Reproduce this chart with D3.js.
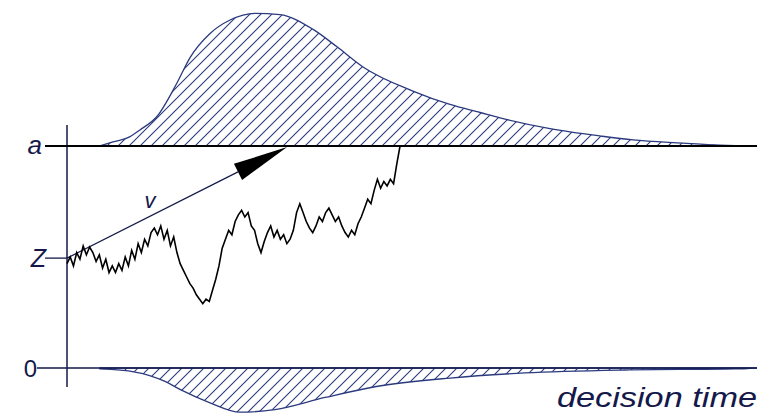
<!DOCTYPE html>
<html><head><meta charset="utf-8">
<script src="https://cdn.jsdelivr.net/npm/d3@7"></script>
<style>body{margin:0;background:#fff}svg{display:block}</style>
</head><body>
<svg id="c" width="771" height="413"></svg>
<script>
// ---- data ----
const boundaryLabels = ["a", "Z", "0"];
const boundaryValues = [1, 0.495, 0];
const xLabel = "decision time";
const driftLabel = "v";
// upper (hit a) RT density: time, density
const topT = [0.143,0.2,0.274,0.317,0.391,0.478,0.535,0.622,0.709,0.817,0.926,1.07,1.174,1.287,1.504,1.665,1.796,1.883,2.1,2.317,2.461,2.678,2.839,3.0];
const topD = [0,0.03,0.07,0.12,0.22,0.47,0.66,0.84,0.94,0.99,0.98,0.87,0.74,0.59,0.41,0.31,0.25,0.21,0.13,0.075,0.045,0.022,0.007,0];
// lower (hit 0) RT density
const botT = [0.143,0.296,0.426,0.491,0.622,0.752,0.904,1.122,1.339,1.665,1.991,2.426,2.904,3.0];
const botD = [0.007,0.03,0.10,0.16,0.26,0.33,0.31,0.22,0.14,0.075,0.037,0.015,0.007,0];
// sample path of the evidence process (equal time steps until it hits a)
const walkEnd = 1.448;
const walk = [.47,.50,.46,.52,.49,.55,.51,.545,
  .52,.48,.51,.45,.49,.43,.46,.43,
  .47,.44,.50,.46,.53,.49,.56,.52,.58,.55,.61,.63,
  .60,.64,.58,.62,.55,.59,.52,.47,
  .44,.41,.38,.36,.33,.31,.29,
  .31,.30,.35,.40,.46,.54,
  .58,.62,.60,.66,.69,.71,
  .68,.70,.64,.62,.56,.52,
  .57,.61,.64,.59,.62,.58,.60,.56,.58,
  .62,.70,.74,
  .70,.66,.63,.61,
  .64,.68,.66,.70,.72,
  .69,.66,.68,.64,.61,.59,
  .62,.60,.65,.68,
  .72,.76,.74,.80,.85,
  .81,.84,.82,.85,.83,
  .92,1.0];
const driftStart = [0, 0.495];
const driftTip = [0.957, 0.995];

// ---- drawing ----
const ink = "#15194a", hatchInk = "#2b3a7e";
const svg = d3.select("#c");
const x = d3.scaleLinear([0, 3], [67, 757]);
const y = d3.scaleLinear([0, 1], [368, 146]);
const dTop = d3.scaleLinear([0, 1], [146, 12]);
const dBot = d3.scaleLinear([0, 1], [368, 502]);

const defs = svg.append("defs");
const pat = defs.append("pattern").attr("id","hatch").attr("patternUnits","userSpaceOnUse")
  .attr("width",11).attr("height",11);
pat.append("path").attr("d","M0,11 L11,0 M-2,2 L2,-2 M9,13 L13,9")
  .attr("stroke",hatchInk).attr("stroke-width",1.1).attr("fill","none");

const areaTop = d3.area().x((d,i)=>x(topT[i])).y0(dTop(0)).y1(d=>dTop(d)).curve(d3.curveMonotoneX);
const areaBot = d3.area().x((d,i)=>x(botT[i])).y0(dBot(0)).y1(d=>dBot(d)).curve(d3.curveMonotoneX);
svg.append("path").attr("d", areaTop(topD)).attr("fill","url(#hatch)").attr("stroke",hatchInk).attr("stroke-width",1.3);
svg.append("path").attr("d", areaBot(botD)).attr("fill","url(#hatch)").attr("stroke",hatchInk).attr("stroke-width",1.3);

// vertical axis
svg.append("line").attr("x1",x(0)).attr("x2",x(0)).attr("y1",125).attr("y2",387).attr("stroke",ink).attr("stroke-width",1.5);
// boundary a
svg.append("line").attr("x1",45).attr("x2",x(3)).attr("y1",y(1)).attr("y2",y(1)).attr("stroke","#000").attr("stroke-width",2.2);
// Z tick
svg.append("line").attr("x1",45).attr("x2",x(0)).attr("y1",y(boundaryValues[1])).attr("y2",y(boundaryValues[1])).attr("stroke",ink).attr("stroke-width",1.3);
// zero line
svg.append("line").attr("x1",37).attr("x2",x(3)).attr("y1",y(0)).attr("y2",y(0)).attr("stroke",ink).attr("stroke-width",1.5);

// labels
const lab = svg.append("g").attr("fill",ink).attr("font-family","'Liberation Sans Narrow','Liberation Sans',Arial,sans-serif");
lab.append("text").attr("x",42).attr("y",y(1)+8).attr("text-anchor","end").attr("font-size",26).attr("font-style","italic").text(boundaryLabels[0]);
lab.append("text").attr("x",46).attr("y",y(boundaryValues[1])+9).attr("text-anchor","end").attr("font-size",25).attr("font-style","italic").text(boundaryLabels[1]);
lab.append("text").attr("x",37).attr("y",y(0)+9).attr("text-anchor","end").attr("font-size",24).text(boundaryLabels[2]);
lab.append("text").attr("x",757).attr("y",407).attr("text-anchor","end").attr("font-size",27).attr("font-style","italic")
  .attr("textLength",200).attr("lengthAdjust","spacingAndGlyphs").text(xLabel);
lab.append("text").attr("x",150).attr("y",208).attr("text-anchor","middle").attr("font-size",22).attr("font-style","italic").text(driftLabel);

// drift arrow
const sx = x(driftStart[0]), sy = y(driftStart[1]), tx = x(driftTip[0]), ty = y(driftTip[1]);
const dx = tx - sx, dy = ty - sy, L = Math.hypot(dx, dy), ux = dx/L, uy = dy/L;
const hl = 55, hw = 9;
const bx = tx - hl*ux, by = ty - hl*uy;
svg.append("line").attr("x1",sx).attr("y1",sy).attr("x2",bx).attr("y2",by).attr("stroke",ink).attr("stroke-width",1.2);
svg.append("path").attr("d",`M${tx},${ty}L${bx - hw*uy},${by + hw*ux}L${bx + hw*uy},${by - hw*ux}Z`).attr("fill","#000");

// walk
const dt = walkEnd / (walk.length - 1);
svg.append("path").attr("d", d3.line().x((d,i)=>x(i*dt)).y(d=>y(d)).curve(d3.curveLinear)(walk))
  .attr("fill","none").attr("stroke","#000").attr("stroke-width",1.6).attr("stroke-linejoin","miter");
</script>
</body></html>
